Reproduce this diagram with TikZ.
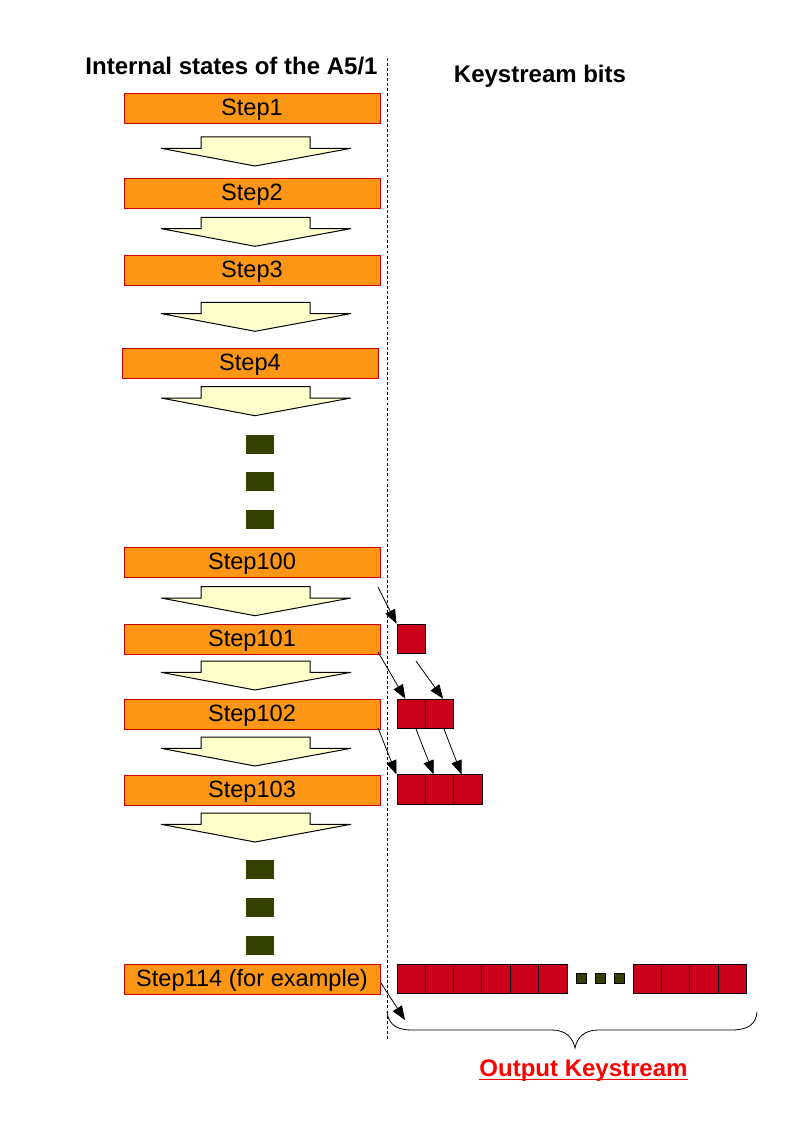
\documentclass[tikz,border=0pt]{standalone}
\usepackage{fontspec}
\setmainfont{Liberation Sans}
\usetikzlibrary{arrows.meta,calc}
\definecolor{stepfill}{RGB}{252,150,20}
\definecolor{stepline}{RGB}{204,0,0}
\definecolor{bitred}{RGB}{204,0,26}
\definecolor{dotgreen}{RGB}{51,64,0}
\definecolor{arrowfill}{RGB}{255,255,204}
\definecolor{outred}{RGB}{255,0,0}
\tikzset{
  stepbox/.style={draw=stepline, fill=stepfill, line width=0.75pt, minimum width=192pt, minimum height=22.5pt, inner sep=0pt, text height=13.2pt, text depth=2pt, font=\fontsize{17.7}{20}\selectfont},
  bitcell/.style={draw=black, fill=bitred, line width=0.75pt, minimum width=21.3pt, minimum height=21.8pt, inner sep=0pt},
  greendot/.style={fill=dotgreen, draw=none, minimum width=21pt, minimum height=14.2pt, inner sep=0pt},
  smalldot/.style={fill=dotgreen, draw=black, line width=0.5pt, minimum width=7.8pt, minimum height=7.8pt, inner sep=0pt},
  barrow/.style={draw=black, fill=arrowfill, line width=0.75pt, line join=miter},
  feed/.style={draw=black, line width=0.6pt, -{Triangle[length=10.5pt,width=8pt]}},
  heading/.style={font=\bfseries\fontsize{18}{21}\selectfont, inner sep=0pt, anchor=base},
}
\newcommand\blockarrow[1]{%
  \draw[barrow] (201,#1) -- (310,#1) -- (310,{#1+11.3}) -- (351,{#1+11.3}) -- (255,{#1+29}) -- (161,{#1+11.3}) -- (201,{#1+11.3}) -- cycle;}
\begin{document}
\begin{tikzpicture}[x=0.75pt,y=-0.75pt]
\useasboundingbox (0,0) rectangle (794,1123);
\fill[white] (0,0) rectangle (794,1123);

% headings
\node[heading] (h1) at (231.5,75) {Internal states of the A5/1};
\node[heading] (h2) at (540,82.7) {Keystream bits};

% divider
\draw[line width=0.6pt, dash pattern=on 2.2pt off 1.6pt] (387,58) -- (387,1040);

% steps
\node[stepbox] (s1) at (252,108.5) {Step1};
\node[stepbox] (s2) at (252,193.3) {Step2};
\node[stepbox] (s3) at (252,270.3) {Step3};
\node[stepbox] (s4) at (250,363.3) {Step4};
\node[stepbox] (s100) at (252,562.5) {Step100};
\node[stepbox] (s101) at (252,639.3) {Step101};
\node[stepbox] (s102) at (252,714.3) {Step102};
\node[stepbox] (s103) at (252,790.1) {Step103};
\node[stepbox] (s114) at (252,979.3) {Step114 (for example)};

% block arrows
\blockarrow{137}
\blockarrow{217.3}
\blockarrow{302.3}
\blockarrow{386.7}
\blockarrow{586.7}
\blockarrow{661}
\blockarrow{737}
\blockarrow{813}

% vertical dots
\node[greendot] (g1) at (260,444.5) {};
\node[greendot] (g2) at (260,481.2) {};
\node[greendot] (g3) at (260,519.5) {};
\node[greendot] (g4) at (260,869.5) {};
\node[greendot] (g5) at (260,907.2) {};
\node[greendot] (g6) at (260,945.2) {};

% keystream bits
\node[bitcell] (b1) at (411.2,638.8) {};
\node[bitcell] (b2a) at (411.2,713.8) {};
\node[bitcell] (b2b) at (439.6,713.8) {};
\node[bitcell] (b3a) at (411.2,789.5) {};
\node[bitcell] (b3b) at (439.6,789.5) {};
\node[bitcell] (b3c) at (468.0,789.5) {};
\foreach \i in {0,...,5} {
  \node[bitcell] (f\i) at ({411.2+28.33*\i},978.8) {};
}
\foreach \i in {0,...,3} {
  \node[bitcell] (r\i) at ({647.2+28.4*\i},978.8) {};
}
\node[smalldot] (d1) at (581.3,978.3) {};
\node[smalldot] (d2) at (600.3,978.3) {};
\node[smalldot] (d3) at (619.5,978.3) {};

% feed arrows
\coordinate (t100) at (378,587);
\coordinate (t101) at (378,652);
\coordinate (t102) at (378,728);
\coordinate (t114) at (381,983);
\coordinate (tb1) at (416,661);
\coordinate (tb2a) at (416,729);
\coordinate (tb2b) at (444,729);
\coordinate (end114) at (405,1020);
\draw[feed] (t100) -- (b1.north west);
\draw[feed] (t101) -- ($(b2a.north west)!0.3!(b2a.north east)$);
\draw[feed] (tb1) -- ($(b2b.north west)!0.62!(b2b.north east)$);
\draw[feed] (t102) -- (b3a.north west);
\draw[feed] (tb2a) -- ($(b3b.north west)!0.3!(b3b.north east)$);
\draw[feed] (tb2b) -- ($(b3c.north west)!0.28!(b3c.north east)$);
\draw[feed] (t114) -- (end114);

% brace
\draw[line width=0.6pt] (387,1012) .. controls (389,1027) and (400,1030) .. (412,1030) -- (552,1030) .. controls (566,1030) and (573,1038) .. (575,1048) .. controls (577,1038) and (584,1030) .. (598,1030) -- (732,1030) .. controls (748,1030) and (756,1024) .. (757,1012);

% output label
\node[heading, text=outred] (out) at (583.5,1076.7) {Output Keystream};
\draw[outred, line width=1.3pt] ($(out.base west)+(0,2.8)$) -- ($(out.base east)+(0,2.8)$);
\end{tikzpicture}
\end{document}
